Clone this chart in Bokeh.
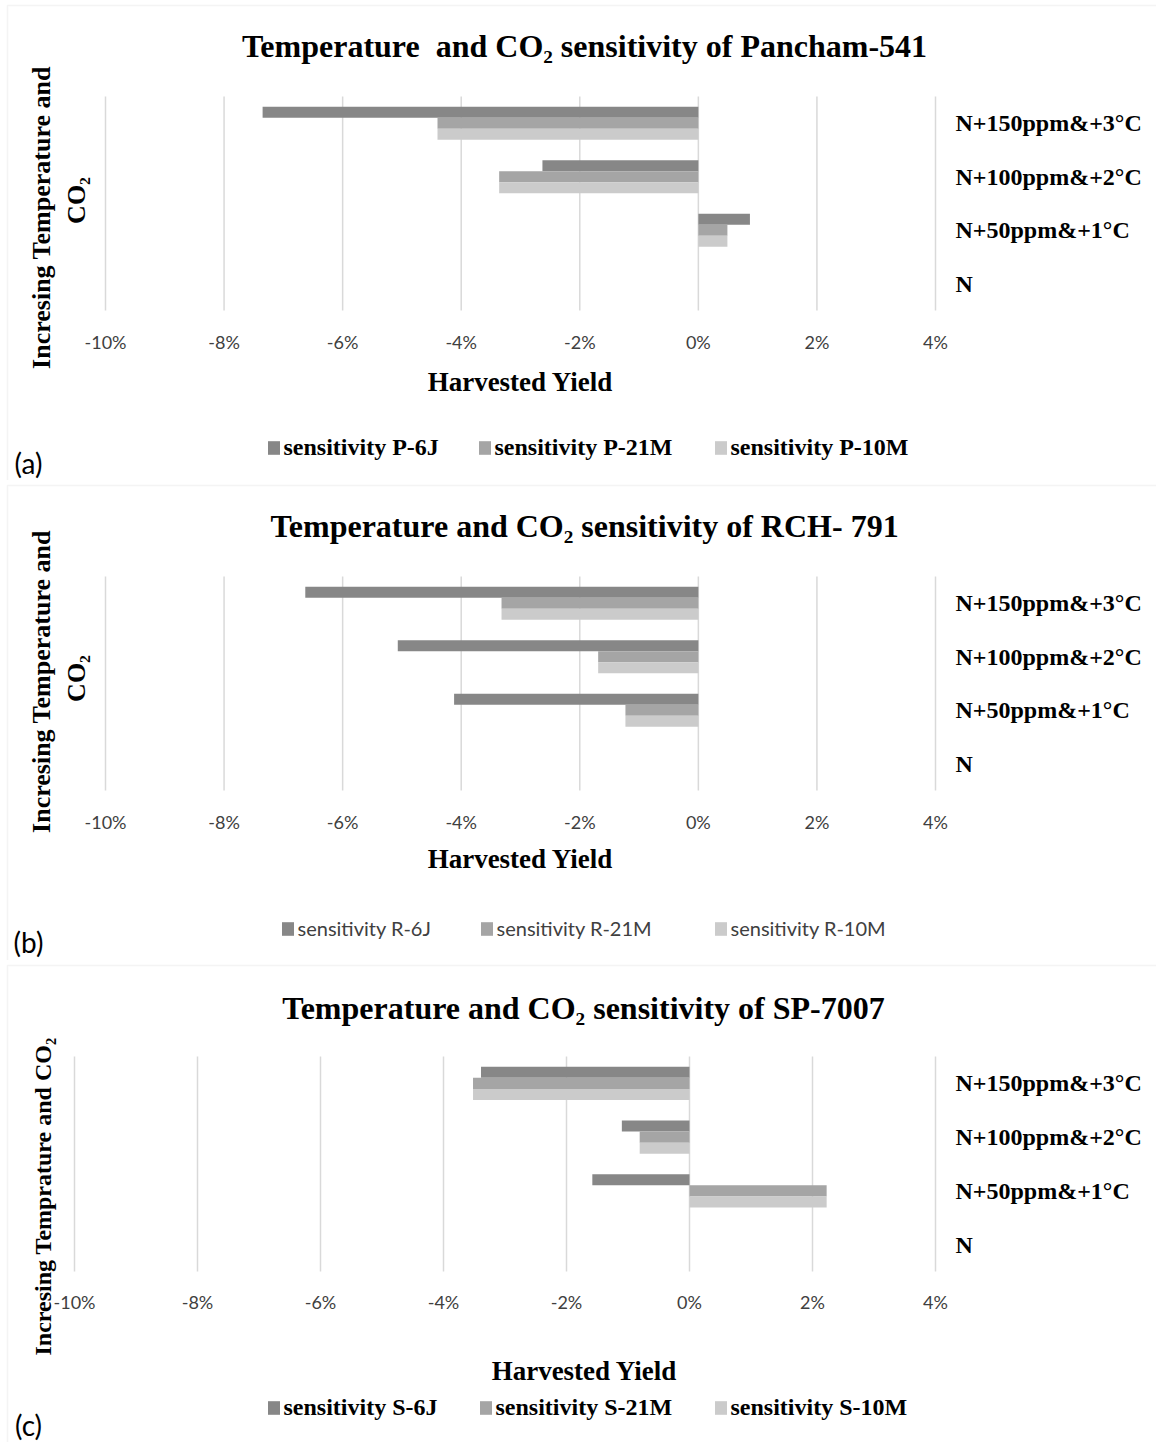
import math

from bokeh.core.properties import value
from bokeh.embed import file_html
from bokeh.layouts import column
from bokeh.models import (BoxAnnotation, ColumnDataSource, Label, Legend, LegendItem,
                          Range1d)
from bokeh.plotting import figure
from bokeh.resources import INLINE
from bokeh.transform import dodge

# ---- data -------------------------------------------------------------
scenarios = ["N+150ppm&+3°C", "N+100ppm&+2°C", "N+50ppm&+1°C", "N"]
x_ticks = [-10, -8, -6, -4, -2, 0, 2, 4]
x_tick_labels = ["-10%", "-8%", "-6%", "-4%", "-2%", "0%", "2%", "4%"]

# change in harvested yield (%) per scenario
pancham_6j = [-7.35, -2.63, 0.87, 0.0]
pancham_21m = [-4.40, -3.36, 0.49, 0.0]
pancham_10m = [-4.40, -3.36, 0.49, 0.0]

rch_6j = [-6.63, -5.07, -4.12, 0.0]
rch_21m = [-3.32, -1.69, -1.23, 0.0]
rch_10m = [-3.32, -1.69, -1.23, 0.0]

sp_6j = [-3.39, -1.10, -1.58, 0.0]
sp_21m = [-3.52, -0.81, 2.23, 0.0]
sp_10m = [-3.52, -0.81, 2.23, 0.0]

pancham_names = ["sensitivity P-6J", "sensitivity P-21M", "sensitivity P-10M"]
rch_names = ["sensitivity R-6J", "sensitivity R-21M", "sensitivity R-10M"]
sp_names = ["sensitivity S-6J", "sensitivity S-21M", "sensitivity S-10M"]

# ---- styling ----------------------------------------------------------
SERIF = "Liberation Serif"
SANS = "Lato"
BAR_COLORS = ["#878787", "#a5a5a5", "#cbcbcb"]
GRID = "#d9d9d9"
TICK_COLOR = "#404040"
W = 1156
X0, X1 = -10, 4
BAR_H = 0.205

panels = [
    dict(height=480, frame=(105, 935, 96, 310),
         title="Temperature\u00a0 and CO₂ sensitivity of Pancham-541", title_xy=(584, 45),
         ylab=[("Incresing Temperature and", (41, 217)), ("CO₂", (76, 200))], ylab_size="26px",
         xlab_xy=(520, 381), names=pancham_names, legend_x=[267, 478, 714], legend_top=437,
         legend_font=(SERIF, "bold", "24px", "black"), tag="(a)", tag_xy=(28, 462),
         series=(pancham_6j, pancham_21m, pancham_10m)),
    dict(height=480, frame=(105, 935, 96, 310),
         title="Temperature and CO₂ sensitivity of RCH- 791", title_xy=(584, 45),
         ylab=[("Incresing Temperature and", (41, 201)), ("CO₂", (76, 198))], ylab_size="26px",
         xlab_xy=(520, 378), names=rch_names, legend_x=[281, 480, 714], legend_top=436,
         legend_font=(SANS, "normal", "20px", TICK_COLOR), tag="(b)", tag_xy=(28, 461),
         series=(rch_6j, rch_21m, rch_10m)),
    dict(height=482, frame=(74, 935, 96, 311),
         title="Temperature and CO₂ sensitivity of SP-7007", title_xy=(583, 47),
         ylab=[("Incresing Temprature and CO₂", (42, 236))], ylab_size="24px",
         xlab_xy=(584, 410), names=sp_names, legend_x=[267, 479, 714], legend_top=437,
         legend_font=(SERIF, "bold", "24px", "black"), tag="(c)", tag_xy=(28, 464),
         series=(sp_6j, sp_21m, sp_10m)),
]


def make_panel(spec):
    L, R, T, B = spec["frame"]
    H = spec["height"]
    n = len(scenarios)

    # canvas pixel -> data coordinates (plot area spans L..R and T..B)
    def x_at(px):
        return X0 + (px - L) / (R - L) * (X1 - X0)

    def y_at(py):
        return n * (B - py) / (B - T)

    p = figure(width=W, height=H, x_range=Range1d(x_at(0), x_at(W)),
               y_range=Range1d(y_at(H), y_at(0)), x_axis_type=None, y_axis_type=None,
               min_border=0, title=None, output_backend="svg", toolbar_location=None)
    p.outline_line_color = None
    p.background_fill_color = "white"
    p.border_fill_color = "white"

    # vertical grid lines at the percentage ticks
    p.segment(x0=x_ticks, x1=x_ticks, y0=[0] * len(x_ticks), y1=[n] * len(x_ticks),
              line_color=GRID, line_width=1.5)

    centers = [n - 0.5 - i for i in range(n)]
    s1, s2, s3 = spec["series"]
    src = ColumnDataSource(dict(scenario=scenarios, center=centers, a=s1, b=s2, c=s3))
    renderers = []
    for col, off, color in zip(["a", "b", "c"], [BAR_H, 0.0, -BAR_H], BAR_COLORS):
        r = p.hbar(y=dodge("center", off), left=0, right=col, height=BAR_H,
                   source=src, fill_color=color, line_color=None)
        renderers.append(r)

    # tick labels under the plot area
    p.text(x=x_ticks, y=[y_at(341)] * len(x_ticks), text=x_tick_labels,
           text_align=value("center"), text_baseline=value("middle"),
           text_font=value(SANS), text_font_size=value("18px"), text_color=TICK_COLOR)

    # scenario labels on the right
    p.text(x=[x_at(955)] * n, y=centers, text=scenarios,
           text_align=value("left"), text_baseline=value("middle"),
           text_font=value(SERIF), text_font_style=value("bold"),
           text_font_size=value("24px"), text_color="black")

    # outer chart border
    p.add_layout(BoxAnnotation(left=x_at(7), right=x_at(W + 20), top=y_at(5),
                               bottom=y_at(H + 20), fill_alpha=0,
                               line_color=GRID, line_width=1.5))

    def add_text(text, px, py, size, font=SERIF, style="bold", angle=0.0, color="black"):
        p.add_layout(Label(x=x_at(px), y=y_at(py), text=text, angle=angle,
                           text_align="center", text_baseline="middle",
                           text_font=font, text_font_style=style,
                           text_font_size=size, text_color=color))

    add_text(spec["title"], *spec["title_xy"], "32px")
    for txt, (px, py) in spec["ylab"]:
        add_text(txt, px, py, spec["ylab_size"], angle=math.pi / 2)
    add_text("Harvested Yield", *spec["xlab_xy"], "27px")
    add_text(spec["tag"], *spec["tag_xy"], "28px", font=SANS, style="normal")

    font, style, size, color = spec["legend_font"]
    for r, name, mx in zip(renderers, spec["names"], spec["legend_x"]):
        lg = Legend(items=[LegendItem(label=name, renderers=[r])],
                    location=(mx - 1.5, H - (spec["legend_top"] + 24)),
                    orientation="horizontal", glyph_width=15, glyph_height=17,
                    label_standoff=3, label_height=13, padding=0, margin=0, spacing=0,
                    border_line_color=None, background_fill_alpha=0,
                    label_text_font=font, label_text_font_style=style,
                    label_text_font_size=size, label_text_color=color)
        p.add_layout(lg, "center")
    return p


layout = column(*[make_panel(s) for s in panels], spacing=0)

with open("out.html", "w") as f:
    f.write(file_html(layout, INLINE))
